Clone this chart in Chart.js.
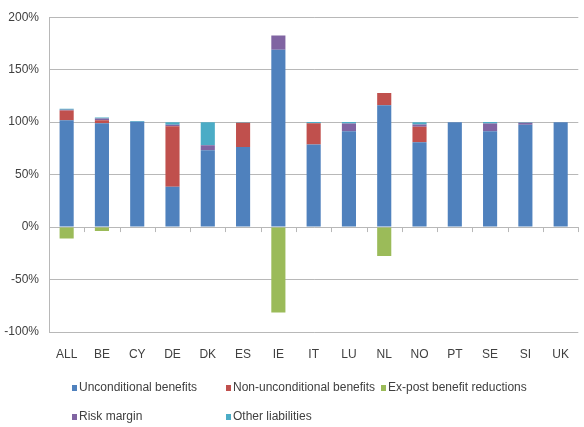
<!DOCTYPE html>
<html>
<head>
<meta charset="utf-8">
<script src="https://cdn.jsdelivr.net/npm/chart.js@4"></script>
<style>
  html, body { margin: 0; padding: 0; background: #fff; }
  canvas { display: block; }
</style>
</head>
<body>
<canvas id="chart" width="584" height="427"></canvas>
<script>
const countries = ['ALL', 'BE', 'CY', 'DE', 'DK', 'ES', 'IE', 'IT', 'LU', 'NL', 'NO', 'PT', 'SE', 'SI', 'UK'];

const unconditional = [101.7, 98.9, 100.3, 38.4, 73.2, 76.4, 168.9, 78.6, 91.3, 116, 80.8, 100, 91.3, 97.6, 100];
const nonUnconditional = [9.5, 2.9, 0, 57.6, 0, 23, 0, 20.3, 0, 11.7, 14.9, 0, 0, 0, 0];
const expostReductions = [-11, -3.8, 0, 0, 0, 0, -81.4, 0, 0, -27.5, 0, 0, 0, 0, 0];
const riskMargin = [0.6, 1.6, 0, 1.5, 4.8, 0, 13.6, 0, 7.3, 0, 2, 0, 7.3, 1.9, 0];
const otherLiabilities = [1, 1, 0.7, 2.5, 22, 0.5, 0, 1.2, 1.5, 0, 2.3, 0, 1.5, 0.5, 0];

const yTicks = [-100, -50, 0, 50, 100, 150, 200];

const FONT = "'Liberation Sans Narrow', 'Liberation Sans', Arial, sans-serif";
const TEXT = '#404040';
const GRID = '#b8b8b8';

// legend in fixed columns like the original (two rows)
const legendPlugin = {
  id: 'columnLegend',
  afterDraw(chart) {
    const ctx = chart.ctx;
    const cols = [72, 226, 381];
    const rows = [388, 417];
    ctx.save();
    ctx.font = '12px ' + FONT;
    ctx.textBaseline = 'middle';
    chart.data.datasets.forEach((ds, i) => {
      const x = cols[i % 3];
      const y = rows[Math.floor(i / 3)];
      ctx.fillStyle = ds.backgroundColor;
      ctx.fillRect(x, y - 3, 5, 6);
      ctx.fillStyle = TEXT;
      ctx.fillText(ds.label, x + 7, y);
    });
    ctx.restore();
  }
};

// small tick marks hanging under the zero line between categories
const zeroTicks = {
  id: 'zeroTicks',
  afterDatasetsDraw(chart) {
    const x = chart.scales.x;
    const y0 = chart.scales.y.getPixelForValue(0);
    const ctx = chart.ctx;
    ctx.save();
    ctx.strokeStyle = GRID;
    ctx.lineWidth = 1;
    for (let i = 1; i <= countries.length; i++) {
      const px = Math.round(x.getPixelForValue(i - 0.5)) + 0.5;
      ctx.beginPath();
      ctx.moveTo(px, y0);
      ctx.lineTo(px, y0 + 5);
      ctx.stroke();
    }
    ctx.restore();
  }
};

const ds = (label, data, color) => ({
  label,
  data,
  backgroundColor: color,
  barPercentage: 0.4,
  categoryPercentage: 1
});

new Chart(document.getElementById('chart'), {
  type: 'bar',
  data: {
    labels: countries,
    datasets: [
      ds('Unconditional benefits', unconditional, '#4f81bd'),
      ds('Non-unconditional benefits', nonUnconditional, '#c0504d'),
      ds('Ex-post benefit reductions', expostReductions, '#9bbb59'),
      ds('Risk margin', riskMargin, '#8064a2'),
      ds('Other liabilities', otherLiabilities, '#4bacc6')
    ]
  },
  options: {
    responsive: false,
    animation: false,
    devicePixelRatio: 1,
    layout: { padding: { left: 4, right: 0, top: 17, bottom: 65 } },
    plugins: {
      legend: { display: false },
      tooltip: { enabled: false }
    },
    scales: {
      x: {
        stacked: true,
        grid: { display: false, drawTicks: false },
        border: { display: false },
        ticks: { color: TEXT, font: { family: FONT, size: 12 }, padding: 15 },
        afterFit(scale) { scale.height = 30; }
      },
      y: {
        stacked: true,
        min: -100,
        max: 200,
        afterBuildTicks(scale) {
          scale.ticks = yTicks.map(v => ({ value: v }));
        },
        afterFit(scale) { scale.width = 45; },
        grid: { color: GRID, lineWidth: 1, drawTicks: false },
        border: { display: true, color: GRID },
        ticks: {
          color: TEXT,
          font: { family: FONT, size: 12 },
          padding: 10,
          callback: v => v + '%'
        }
      }
    }
  },
  plugins: [legendPlugin, zeroTicks]
});
</script>
</body>
</html>
